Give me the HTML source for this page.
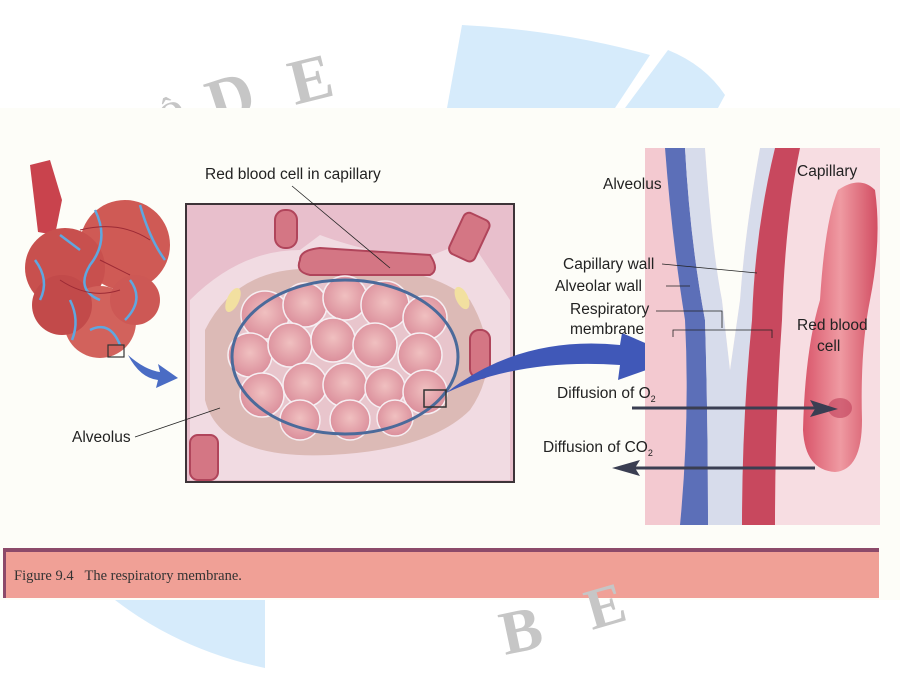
<!DOCTYPE html>
<html><head><meta charset="utf-8"><style>
html,body{margin:0;padding:0;background:#fff;}
svg{display:block;}
</style></head><body>
<svg width="900" height="675" viewBox="0 0 900 675" xmlns="http://www.w3.org/2000/svg" font-family="Liberation Sans, Arial, sans-serif">
<defs>
<radialGradient id="cell" cx="50%" cy="45%" r="60%"><stop offset="0" stop-color="#f0c0c0"/><stop offset="1" stop-color="#d98a98"/></radialGradient>
<linearGradient id="rbc" x1="0" x2="1"><stop offset="0" stop-color="#d9556a"/><stop offset="0.5" stop-color="#ef9aa2"/><stop offset="1" stop-color="#d24e62"/></linearGradient>
</defs>
<rect width="900" height="675" fill="#fff"/>
<!-- watermark -->
<path d="M447 108 L462 25 Q560 30 650 55 L615 108 Z" fill="#d6ebfb"/>
<path d="M625 108 L668 50 Q705 65 725 95 L718 108 Z" fill="#d6ebfb"/>
<g fill="#c6c6c6" style="font-family:'Liberation Serif',serif;font-weight:bold">
<text x="215" y="125" font-size="64" transform="rotate(-18 215 125)">D</text>
<text x="295" y="105" font-size="64" transform="rotate(-14 295 105)">E</text>
<text x="165" y="128" font-size="32" transform="rotate(-25 165 128)">Ô</text>
</g>
<!-- image area -->
<rect x="0" y="108" width="900" height="492" fill="#fdfdf8"/>
<!-- left alveolar cluster -->
<g>
<path d="M30 165 L50 160 L62 200 L55 235 L38 232 Z" fill="#c9434d"/>
<circle cx="125" cy="245" r="45" fill="#cf5a55"/>
<circle cx="65" cy="268" r="40" fill="#c8504e"/>
<circle cx="100" cy="322" r="36" fill="#d2625c"/>
<circle cx="62" cy="305" r="30" fill="#c24a4a"/>
<circle cx="135" cy="300" r="25" fill="#cd5855"/>
<g stroke="#5fa7e0" stroke-width="2.5" fill="none">
<path d="M95 210 Q110 240 90 265 Q75 290 100 300"/>
<path d="M140 205 Q150 240 165 260"/>
<path d="M35 260 Q50 280 40 300"/>
<path d="M90 330 Q110 320 120 345"/>
<path d="M130 280 Q145 300 125 320"/>
<path d="M60 235 L80 250"/>
<path d="M70 300 Q80 320 72 340"/>
</g>
<g stroke="#9c2a35" stroke-width="1" fill="none">
<path d="M80 230 Q120 220 150 240"/><path d="M60 280 Q90 300 120 290"/><path d="M100 260 L130 275"/>
</g>
<rect x="108" y="345" width="16" height="12" fill="none" stroke="#333" stroke-width="1.2"/>
</g>
<path d="M128 355 Q145 370 160 372 L158 364 L178 378 L156 388 L158 380 Q140 378 128 355 Z" fill="#4a6cc4"/>
<!-- middle box -->
<rect x="186" y="204" width="328" height="278" fill="#e8bfcc" stroke="#3d3338" stroke-width="2"/>
<path d="M190 300 Q240 250 300 250 L320 235 Q360 250 420 260 L470 240 L510 300 L510 480 L190 480 Z" fill="#f3e2e7" opacity="0.8"/>
<path d="M205 330 Q240 260 330 270 Q420 260 470 300 Q505 360 470 410 Q430 450 330 455 Q220 460 205 400 Z" fill="#dcbab6"/>
<path d="M300 260 Q300 250 320 248 L430 255 Q440 270 430 275 L310 275 Q295 272 300 260 Z" fill="#d47684" stroke="#b0455b" stroke-width="2"/>
<rect x="275" y="210" width="22" height="38" rx="10" fill="#d47684" stroke="#b0455b" stroke-width="2"/>
<rect x="455" y="215" width="28" height="45" rx="6" fill="#d47684" stroke="#b0455b" stroke-width="2" transform="rotate(25 470 238)"/>
<rect x="470" y="330" width="20" height="48" rx="9" fill="#d47684" stroke="#b0455b" stroke-width="2"/>
<rect x="190" y="435" width="28" height="45" rx="8" fill="#d47684" stroke="#b0455b" stroke-width="2"/>
<ellipse cx="233" cy="300" rx="6" ry="13" fill="#f2e0a0" transform="rotate(25 233 300)"/>
<ellipse cx="462" cy="298" rx="6" ry="12" fill="#f2e0a0" transform="rotate(-25 462 298)"/>
<ellipse cx="345" cy="357" rx="113" ry="77" fill="#e8c5cc"/>
<g fill="url(#cell)" stroke="#f6eef2" stroke-width="1.5">
<circle cx="265" cy="315" r="24"/><circle cx="305" cy="305" r="22"/><circle cx="345" cy="298" r="22"/><circle cx="385" cy="305" r="24"/><circle cx="425" cy="318" r="22"/>
<circle cx="250" cy="355" r="22"/><circle cx="290" cy="345" r="22"/><circle cx="333" cy="340" r="22"/><circle cx="375" cy="345" r="22"/><circle cx="420" cy="355" r="22"/>
<circle cx="262" cy="395" r="22"/><circle cx="305" cy="385" r="22"/><circle cx="345" cy="385" r="22"/><circle cx="385" cy="388" r="20"/><circle cx="425" cy="392" r="22"/>
<circle cx="300" cy="420" r="20"/><circle cx="350" cy="420" r="20"/><circle cx="395" cy="418" r="18"/>
</g>
<ellipse cx="345" cy="357" rx="113" ry="77" fill="none" stroke="#4b6a9a" stroke-width="3"/>
<rect x="424" y="390" width="22" height="17" fill="none" stroke="#333" stroke-width="1.5"/>
<text x="205" y="179" font-size="15.5" fill="#222">Red blood cell in capillary</text>
<line x1="292" y1="186" x2="390" y2="268" stroke="#222" stroke-width="0.8"/>
<text x="72" y="442" font-size="15.5" fill="#222">Alveolus</text>
<line x1="135" y1="437" x2="220" y2="408" stroke="#222" stroke-width="0.8"/>
<path d="M446 393 Q520 335 620 345 L622 333 L680 358 L618 380 L620 365 Q520 358 446 393 Z" fill="#4058b8"/>
<!-- right panel -->
<rect x="645" y="148" width="235" height="377" fill="#f7dde2"/>
<path d="M645 148 L665 148 Q672 240 685 320 Q690 420 680 525 L645 525 Z" fill="#f3c9d0"/>
<path d="M665 148 L685 148 Q690 240 705 320 Q708 420 708 525 L680 525 Q690 420 685 320 Q672 240 665 148 Z" fill="#5c6fb8"/>
<path d="M685 148 L705 148 Q712 250 722 300 L730 370 L740 300 Q745 230 760 148 L775 148 Q755 230 752 320 Q742 420 742 525 L708 525 Q708 420 705 320 Q690 240 685 148 Z" fill="#d7dceb"/>
<path d="M705 148 L760 148 Q745 230 740 300 L730 370 L722 300 Q712 250 705 148 Z" fill="#fdfdf8"/>
<path d="M775 148 L800 148 Q785 220 782 320 Q775 420 775 525 L742 525 Q742 420 752 320 Q755 230 775 148 Z" fill="#c8485e"/>
<path d="M838 190 Q860 175 875 190 Q882 240 870 300 Q860 350 862 420 Q862 470 835 472 Q805 470 803 430 Q805 350 820 300 Q825 220 838 190 Z" fill="url(#rbc)"/>
<ellipse cx="840" cy="408" rx="12" ry="10" fill="#c0405a" opacity="0.6"/>
<text x="603" y="189" font-size="15.5" fill="#222">Alveolus</text>
<text x="797" y="176" font-size="15.5" fill="#222">Capillary</text>
<text x="563" y="269" font-size="15.5" fill="#222">Capillary wall</text>
<line x1="662" y1="264" x2="757" y2="273" stroke="#222" stroke-width="0.8"/>
<text x="555" y="291" font-size="15.5" fill="#222">Alveolar wall</text>
<line x1="666" y1="286" x2="690" y2="286" stroke="#222" stroke-width="0.8"/>
<text x="570" y="314" font-size="15.5" fill="#222">Respiratory</text>
<text x="570" y="334" font-size="15.5" fill="#222">membrane</text>
<path d="M656 311 L722 311 L722 328" fill="none" stroke="#222" stroke-width="0.8"/>
<path d="M673 337 L673 330 L772 330 L772 338" fill="none" stroke="#222" stroke-width="0.8"/>
<text x="797" y="330" font-size="15.5" fill="#222">Red blood</text>
<text x="817" y="351" font-size="15.5" fill="#222">cell</text>
<text x="557" y="398" font-size="15.5" fill="#222">Diffusion of O<tspan font-size="9" dy="4">2</tspan></text>
<text x="543" y="452" font-size="15.5" fill="#222">Diffusion of CO<tspan font-size="9" dy="4">2</tspan></text>
<line x1="632" y1="408" x2="825" y2="408" stroke="#3a3e52" stroke-width="3"/>
<path d="M810 400 L838 409 L810 417 L815 409 Z" fill="#3a3e52"/>
<line x1="815" y1="468" x2="630" y2="468" stroke="#3a3e52" stroke-width="3"/>
<path d="M640 460 L612 468 L640 476 L635 468 Z" fill="#3a3e52"/>
<!-- caption -->
<rect x="3" y="548" width="876" height="50" fill="#f0a096"/>
<rect x="3" y="548" width="876" height="4" fill="#8c4a6a"/>
<rect x="3" y="548" width="3" height="50" fill="#8c4a6a"/>
<text x="14" y="580" font-size="14.5" fill="#333" style="font-family:'Liberation Serif',serif">Figure 9.4&#160;&#160;&#160;The respiratory membrane.</text>
<!-- bottom watermark -->
<path d="M115 600 L265 600 L265 668 Q180 650 115 600 Z" fill="#d6ebfb"/>
<g fill="#c6c6c6" style="font-family:'Liberation Serif',serif;font-weight:bold">
<text x="505" y="655" font-size="62" transform="rotate(-12 505 655)">B</text>
<text x="592" y="630" font-size="58" transform="rotate(-16 592 630)">E</text>
</g>
</svg>
</body></html>
